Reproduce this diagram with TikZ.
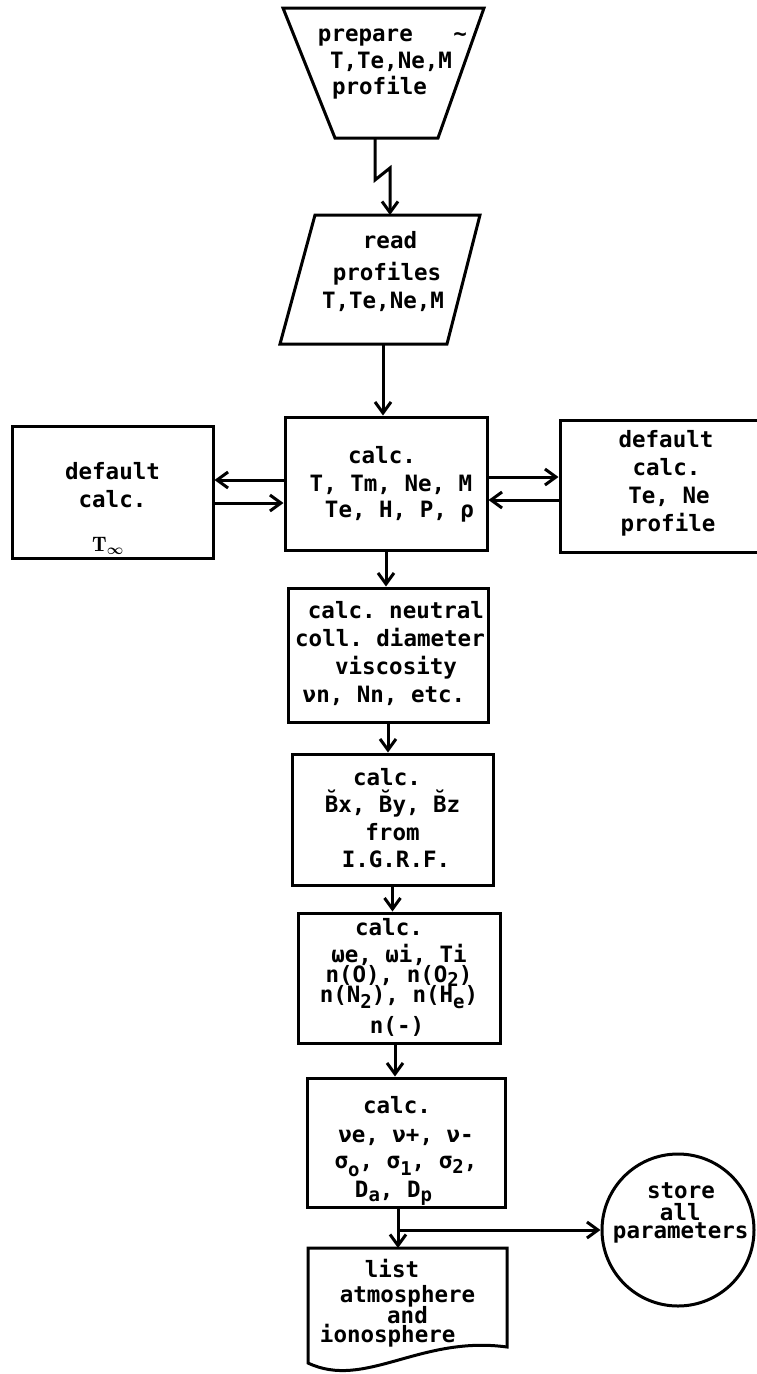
\documentclass[tikz,border=0pt]{standalone}
\usepackage{fontspec}
\setmonofont{DejaVu Sans Mono}
\usetikzlibrary{arrows.meta,calc}
\newcommand{\tyfont}{\fontsize{22.5}{28}\selectfont\ttfamily\bfseries}
\newcommand{\hsp}[1]{\hspace*{#1pt}}
\newcommand{\lowr}[2]{\raisebox{-#1pt}{\fontsize{19}{20}\selectfont #2}}
\newcommand{\uprl}[1]{\rule{0pt}{#1pt}}
\newcommand{\dnrl}[1]{\rule[-#1pt]{0pt}{#1pt}}
\tikzset{
  blk/.style={draw, rectangle, line width=3pt, inner sep=0pt, align=center, font=\tyfont},
  frame/.style={rectangle, inner sep=0pt, outer sep=0pt, align=center, font=\tyfont},
  outline/.style={draw, line width=3pt, line join=miter},
  arr/.style={draw, line width=3pt, -{Straight Barb[length=11pt,width=16pt]}},
}
\begin{document}
\begin{tikzpicture}[x=1pt,y=-1pt]
\useasboundingbox (0,0) rectangle (757,1374);

% trapezoid (manual input)
\node[frame, minimum width=201pt, minimum height=130pt] (prep) at (383.5,73)
  {\uprl{20}\hsp{18}prepare~~~\textasciitilde\\[-1pt]
   \hsp{15}T,Te,Ne,M\\[-2pt]
   profile\hsp{8}\dnrl{30}};
\draw[outline] (prep.north west) -- (prep.north east)
  -- ([xshift=-46pt]prep.south east) -- ([xshift=52pt]prep.south west) -- cycle;

% parallelogram (input)
\node[frame, minimum width=200pt, minimum height=129pt] (read) at (380,279.5)
  {\uprl{20}\hsp{20}read\\[4pt]
   \hsp{14}profiles\\
   \hsp{6}T,Te,Ne,M\dnrl{23}};
\draw[outline] ([xshift=35pt]read.north west) -- (read.north east)
  -- ([xshift=-33pt]read.south east) -- (read.south west) -- cycle;

% central calc box
\node[blk, minimum width=202pt, minimum height=133pt] (calc1) at (386,483.5)
  {\uprl{20}calc.\hsp{8}\\
   \hsp{10}T, Tm, Ne, M\\[-2pt]
   \hsp{27}Te, H, P, ρ\dnrl{7}};

% left default box
\node[blk, minimum width=201pt, minimum height=132pt] (dflt1) at (112.5,492)
  {\uprl{52}default\\
   calc.\hsp{13}\\[16pt]
   {\fontsize{21}{22}\selectfont\boldmath$\mathrm{T}_{\infty}$}\hsp{9}\dnrl{5}};

% right default box
\node[blk, minimum width=201pt, minimum height=132pt] (dflt2) at (660.5,486)
  {\uprl{20}\hsp{11}default\\
   \hsp{12}calc.\\
   \hsp{17}Te, Ne\\
   \hsp{15}profile\dnrl{14}};

% neutral
\node[blk, minimum width=200pt, minimum height=134pt] (neut) at (388,655)
  {\uprl{20}\hsp{16}calc. neutral\\
   \hsp{4}coll. diameter\\
   \hsp{16}viscosity\\
   νn, Nn, etc.\hsp{8}\dnrl{10}};

% IGRF
\node[blk, minimum width=201pt, minimum height=131pt] (igrf) at (392.5,819.5)
  {\uprl{20}calc.\hsp{11}\\[-1pt]
   \u{B}x, \u{B}y, \u{B}z\\
   from\hsp{25}\\[-1pt]
   \hsp{7}I.G.R.F.\dnrl{7}};

% ion parameters
\node[blk, minimum width=202pt, minimum height=130pt] (ions) at (399,978)
  {\uprl{20}calc.\hsp{20}\\[-1pt]
   ωe, ωi, Ti\hsp{12.6}\\[-8pt]
   n(O), n(O\lowr{4}{2})\hsp{9}\\[-8pt]
   n(N\lowr{6}{2}), n(H\lowr{6}{e})\hsp{6}\\[3pt]
   n(-)\hsp{4}\dnrl{8}};

% collision frequencies
\node[blk, minimum width=198pt, minimum height=129pt] (coll) at (406,1142.5)
  {\uprl{33.5}calc.\hsp{18}\\[1pt]
   νe, ν+, ν-\hsp{16.6}\\[-2pt]
   σ\lowr{8}{o}, σ\lowr{7}{1}, σ\lowr{5}{2},\hsp{9}\\[1pt]
   D\lowr{4}{a}, D\lowr{4}{p}\hsp{25}\dnrl{8.5}};

% document (list)
\node[frame, minimum width=199pt, minimum height=115pt] (list) at (407.5,1305.5)
  {\uprl{20}list\hsp{31}\\[-3pt]
   atmosphere\hsp{39.6}\\[-7pt]
   and\hsp{50}\\[-9pt]
   ionosphere\hsp{39.6}\dnrl{12}};
\draw[outline] ([yshift=16pt]list.south east)
  .. controls ($(list.south west)+(112,-28)$) and ($(list.south west)+(57,27)$) .. (list.south west)
  -- (list.north west) -- (list.north east) -- cycle;

% store (circle)
\node[draw, circle, line width=3pt, minimum size=152pt, inner sep=0pt, font=\tyfont] (store) at (678,1230)
  {\smash{\raisebox{12pt}{\begin{tabular}{@{}c@{}}\hsp{6}store\\[-6pt]\hsp{4.6}all\\[-10pt]\hsp{5.4}parameters\end{tabular}}}};

% connectors
\draw[arr] ([xshift=-8.5pt]prep.south) -- ++(0,42) -- ++(15,-12) -- ([xshift=10pt]read.north);
\draw[arr] ([xshift=3pt]read.south) -- ([xshift=3pt]read.south |- calc1.north);
\draw[arr] ([yshift=3.5pt]calc1.west) -- ([yshift=3.5pt]calc1.west -| dflt1.east);
\draw[arr] ([yshift=-19.5pt]calc1.west -| dflt1.east) -- ([yshift=-19.5pt]calc1.west);
\draw[arr] ([yshift=6.5pt]calc1.east) -- ([yshift=6.5pt]calc1.east -| dflt2.west);
\draw[arr] ([yshift=-16.5pt]calc1.east -| dflt2.west) -- ([yshift=-16.5pt]calc1.east);
\draw[arr] (calc1.south) -- (calc1.south |- neut.north);
\draw[arr] (neut.south) -- (neut.south |- igrf.north);
\draw[arr] (igrf.south) -- (igrf.south |- ions.north);
\draw[arr] ([xshift=-4pt]ions.south) -- ([xshift=-4pt]ions.south |- coll.north);
\draw[arr] ([xshift=-8pt]coll.south) -- ([xshift=-8pt]coll.south |- list.north);
\coordinate (br) at ([xshift=-8pt]coll.south |- store.west);
\draw[arr] (br) -- (store.west);
\end{tikzpicture}
\end{document}
